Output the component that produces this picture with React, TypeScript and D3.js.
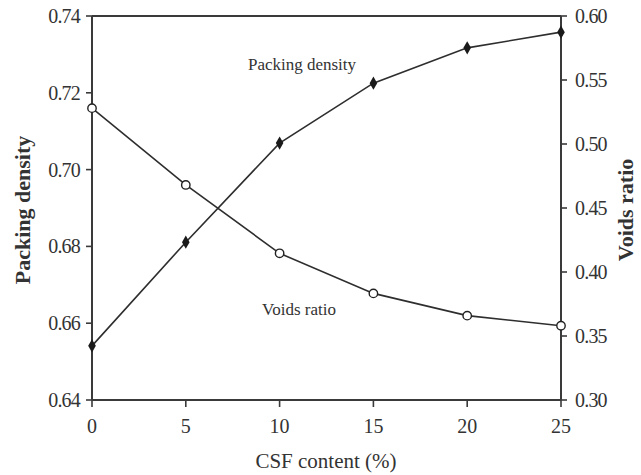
import React from "react";
import * as d3 from "d3";

// CSF content (%) on the horizontal axis
const csfContent = [0, 5, 10, 15, 20, 25];
// Packing density (left axis)
const packingDensity = [0.6541, 0.6811, 0.7069, 0.7225, 0.7317, 0.7358];
// Voids ratio (right axis)
const voidsRatio = [0.528, 0.468, 0.4146, 0.3833, 0.3659, 0.358];

const xTicks = [0, 5, 10, 15, 20, 25];
const leftTicks = [0.64, 0.66, 0.68, 0.7, 0.72, 0.74];
const rightTicks = [0.3, 0.35, 0.4, 0.45, 0.5, 0.55, 0.6];

const W = 641;
const H = 475;
const M = { left: 92, right: 561, top: 16, bottom: 400 };

const FONT = "'Liberation Serif', 'DejaVu Serif', serif";
const AXIS = "#3a3a3a";
const LINE = "#2e2e2e";

export default function App() {
  const x = d3.scaleLinear().domain([0, 25]).range([M.left, M.right]);
  const yL = d3.scaleLinear().domain([0.64, 0.74]).range([M.bottom, M.top]);
  const yR = d3.scaleLinear().domain([0.3, 0.6]).range([M.bottom, M.top]);

  const pdPoints = csfContent.map((c, i) => [x(c), yL(packingDensity[i])] as [number, number]);
  const vrPoints = csfContent.map((c, i) => [x(c), yR(voidsRatio[i])] as [number, number]);
  const line = d3.line();

  const diamond = d3.symbol().type(d3.symbolDiamond).size(50)();

  return (
    <div style={{ position: "absolute", left: 0, top: 0 }}>
      <svg width={W} height={H} style={{ display: "block", background: "#fff" }}>
        {/* frame: left, bottom, right axes plus top border */}
        <g stroke={AXIS} strokeWidth={2} fill="none">
          <line x1={M.left} y1={M.top} x2={M.left} y2={M.bottom} />
          <line x1={M.right} y1={M.top} x2={M.right} y2={M.bottom} />
          <line x1={M.left} y1={M.bottom} x2={M.right} y2={M.bottom} />
          <line x1={M.left} y1={M.top} x2={M.right} y2={M.top} />
        </g>

        {/* x ticks */}
        {xTicks.map((t) => (
          <g key={`x${t}`}>
            <line x1={x(t)} x2={x(t)} y1={M.bottom} y2={M.bottom + 7} stroke={AXIS} strokeWidth={1.6} />
            <text x={x(t)} y={433} textAnchor="middle" fontFamily={FONT} fontSize={20} fill="#333">
              {t}
            </text>
          </g>
        ))}

        {/* left ticks */}
        {leftTicks.map((t) => (
          <g key={`l${t}`}>
            <line x1={M.left - 6} x2={M.left} y1={yL(t)} y2={yL(t)} stroke={AXIS} strokeWidth={1.6} />
            <text x={80} y={yL(t) + 7} textAnchor="end" fontFamily={FONT} fontSize={20} fill="#333" letterSpacing={-0.8}>
              {t.toFixed(2)}
            </text>
          </g>
        ))}

        {/* right ticks */}
        {rightTicks.map((t) => (
          <g key={`r${t}`}>
            <line x1={M.right} x2={M.right + 6} y1={yR(t)} y2={yR(t)} stroke={AXIS} strokeWidth={1.6} />
            <text x={575} y={yR(t) + 7} textAnchor="start" fontFamily={FONT} fontSize={20} fill="#333" letterSpacing={-0.8}>
              {t.toFixed(2)}
            </text>
          </g>
        ))}

        {/* series lines */}
        <path d={line(pdPoints) ?? ""} fill="none" stroke={LINE} strokeWidth={1.6} />
        <path d={line(vrPoints) ?? ""} fill="none" stroke={LINE} strokeWidth={1.6} />

        {/* packing density markers */}
        {pdPoints.map(([px, py], i) => (
          <path key={`pd${i}`} d={diamond ?? ""} transform={`translate(${px},${py})`} fill="#1a1a1a" />
        ))}

        {/* voids ratio markers */}
        {vrPoints.map(([px, py], i) => (
          <circle key={`vr${i}`} cx={px} cy={py} r={4.2} fill="#fff" stroke="#222" strokeWidth={1.4} />
        ))}

        {/* series annotations */}
        <text x={302} y={70} textAnchor="middle" fontFamily={FONT} fontSize={17} fill="#333">
          Packing density
        </text>
        <text x={299} y={315} textAnchor="middle" fontFamily={FONT} fontSize={17} fill="#333">
          Voids ratio
        </text>

        {/* axis titles */}
        <text x={326} y={468} textAnchor="middle" fontFamily={FONT} fontSize={21} fill="#333">
          CSF content (%)
        </text>
        <text
          transform={`translate(30, 210) rotate(-90)`}
          textAnchor="middle"
          fontFamily={FONT}
          fontSize={22}
          fontWeight="bold"
          fill="#333"
        >
          Packing density
        </text>
        <text
          transform={`translate(633, 210) rotate(-90)`}
          textAnchor="middle"
          fontFamily={FONT}
          fontSize={22}
          fontWeight="bold"
          fill="#333"
        >
          Voids ratio
        </text>
      </svg>
    </div>
  );
}
